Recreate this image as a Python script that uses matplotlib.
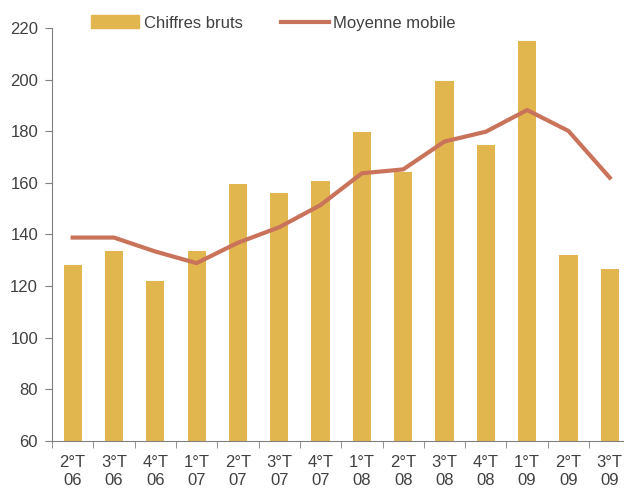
import matplotlib
matplotlib.use("Agg")
import matplotlib.pyplot as plt
import matplotlib.patches as mpatches
import matplotlib.lines as mlines
import numpy as np

plt.rcParams['font.family'] = ['Liberation Sans', 'DejaVu Sans']

quarters = ["2°T", "3°T", "4°T", "1°T", "2°T", "3°T", "4°T",
            "1°T", "2°T", "3°T", "4°T", "1°T", "2°T", "3°T"]
years = ["06", "06", "06", "07", "07", "07", "07",
         "08", "08", "08", "08", "09", "09", "09"]
chiffres_bruts = [128.2, 133.6, 122.0, 133.6, 159.6, 156.0, 160.7,
                  179.7, 164.2, 199.5, 174.7, 215.0, 132.0, 126.6]
moyenne_mobile = [138.8, 138.8, 133.4, 128.9, 136.8, 142.8, 151.4,
                  163.7, 165.2, 176.0, 179.8, 188.2, 180.1, 162.0]

bar_color = '#E2B64F'
line_color = '#C9735A'
text_color = '#404040'
axis_color = '#808080'

fig = plt.figure(figsize=(6.24, 4.9), dpi=100)
ax = fig.add_axes([0.0833, 0.1, 0.927, 0.843])

x = np.arange(len(chiffres_bruts))
ax.bar(x, np.array(chiffres_bruts) - 60, bottom=60, width=0.44, color=bar_color, zorder=2)
ax.plot(x, moyenne_mobile, color=line_color, linewidth=3, zorder=3)

ax.set_xlim(-0.5, len(x) - 0.5)
ax.set_ylim(60, 220)
ax.set_yticks(range(60, 221, 20))

ax.set_xticks(x)
ax.set_xticklabels([q + "\n" + y for q, y in zip(quarters, years)], linespacing=1.3)
ax.set_xticks(np.arange(-0.5, len(x)), minor=True)
ax.tick_params(axis='x', which='major', length=0, pad=10, labelsize=12, labelcolor=text_color)
ax.tick_params(axis='x', which='minor', length=5, direction='out', color=axis_color)
ax.tick_params(axis='y', length=5, direction='out', color=axis_color, labelsize=12,
               labelcolor=text_color, pad=5)

for s in ['top', 'right']:
    ax.spines[s].set_visible(False)
for s in ['left', 'bottom']:
    ax.spines[s].set_color(axis_color)

h_bar = mpatches.Patch(color=bar_color, label="Chiffres bruts")
h_line = mlines.Line2D([], [], color=line_color, linewidth=3, label="Moyenne mobile")
fig.legend(handles=[h_bar, h_line], loc='center left', bbox_to_anchor=(0.146, 0.953),
           ncol=2, frameon=False, fontsize=12, labelcolor=text_color,
           handlelength=2.9, handleheight=0.8, handletextpad=0.25, columnspacing=2.3,
           borderaxespad=0, borderpad=0)

fig.savefig("out.png", dpi=100)
